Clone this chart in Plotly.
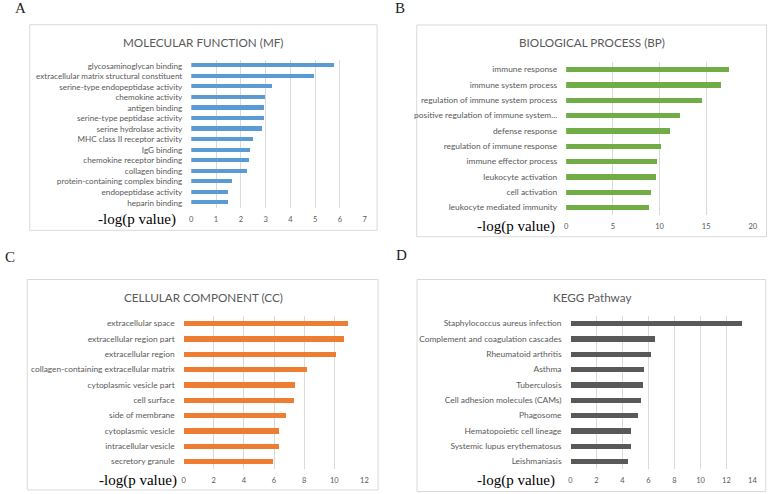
import plotly.graph_objects as go

OFF = 0
W, H = 775 - OFF, 494 - OFF

mf_terms = ["glycosaminoglycan binding", "extracellular matrix structural constituent",
            "serine-type endopeptidase activity", "chemokine activity", "antigen binding",
            "serine-type peptidase activity", "serine hydrolase activity",
            "MHC class II receptor activity", "IgG binding", "chemokine receptor binding",
            "collagen binding", "protein-containing complex binding", "endopeptidase activity",
            "heparin binding"]
mf_values = [5.76, 4.96, 3.25, 2.98, 2.96, 2.93, 2.85, 2.52, 2.37, 2.35, 2.28, 1.67, 1.51, 1.49]

bp_terms = ["immune response", "immune system process", "regulation of immune system process",
            "positive regulation of immune system...", "defense response",
            "regulation of immune response", "immune effector process", "leukocyte activation",
            "cell activation", "leukocyte mediated immunity"]
bp_values = [17.42, 16.57, 14.58, 12.21, 11.15, 10.16, 9.73, 9.63, 9.13, 8.92]

cc_terms = ["extracellular space", "extracellular region part", "extracellular region",
            "collagen-containing extracellular matrix", "cytoplasmic vesicle part", "cell surface",
            "side of membrane", "cytoplasmic vesicle", "intracellular vesicle", "secretory granule"]
cc_values = [10.86, 10.6, 10.11, 8.16, 7.37, 7.28, 6.8, 6.32, 6.3, 5.88]

kegg_terms = ["Staphylococcus aureus infection", "Complement and coagulation cascades",
              "Rheumatoid arthritis", "Asthma", "Tuberculosis", "Cell adhesion molecules (CAMs)",
              "Phagosome", "Hematopoietic cell lineage", "Systemic lupus erythematosus",
              "Leishmaniasis"]
kegg_values = [13.19, 6.48, 6.15, 5.64, 5.54, 5.36, 5.18, 4.6, 4.6, 4.37]

titles = ["MOLECULAR FUNCTION (MF)", "BIOLOGICAL PROCESS (BP)", "CELLULAR COMPONENT (CC)", "KEGG Pathway"]
letters = ["A", "B", "C", "D"]
x_label = "-log(p value)"
x_max = [7, 20, 12, 14]
x_dtick = [1, 5, 2, 2]

def px(x):
    return (x - OFF) / W

def py(y):
    return 1 - (y - OFF) / H

panels = [
    dict(terms=mf_terms, vals=mf_values, color="#5B9BD5",
         px0=191, px1=366, py0=60.4, py1=208, box=(28, 24.7, 378.5, 230.3),
         title=(203.5, 42), letter=(18.5, 8.5), xl=(178, 219), lf=8.1, bg=0.6),
    dict(terms=bp_terms, vals=bp_values, color="#70AD47",
         px0=569.3, px1=757.7, py0=61.6, py1=215, box=(418.5, 25, 771.5, 236.7),
         title=(595, 42.5), letter=(402, 8.5), xl=(560, 226.7), lf=8.4, bg=0.66),
    dict(terms=cc_terms, vals=cc_values, color="#ED7D31",
         px0=183.3, px1=365.7, py0=315.6, py1=469, box=(25.5, 279.5, 379.5, 490),
         title=(203.3, 296.5), letter=(8.5, 257), xl=(178.3, 480), lf=8.4, bg=0.66),
    dict(terms=kegg_terms, vals=kegg_values, color="#595959",
         px0=573.7, px1=757.3, py0=315.6, py1=469, box=(418.8, 279.5, 770.7, 491.5),
         title=(595.5, 296.5), letter=(403, 255), xl=(560, 480), lf=8.4, bg=0.66),
]

fig = go.Figure()
shapes = []
annotations = []
layout_axes = {}

for i, p in enumerate(panels):
    k = "" if i == 0 else str(i + 1)
    fig.add_trace(go.Bar(
        x=p["vals"], y=p["terms"], orientation="h",
        marker=dict(color=p["color"], line=dict(width=0)),
        xaxis="x" + k, yaxis="y" + k, showlegend=False,
        width=1 - p["bg"],
    ))
    n = len(p["terms"])
    layout_axes["xaxis" + k] = dict(
        domain=[px(p["px0"]), px(p["px1"])], anchor="y" + k,
        range=[0, x_max[i]], dtick=x_dtick[i], tick0=0,
        showgrid=True, gridcolor="#d9d9d9", gridwidth=1,
        zeroline=False, showline=False,
        tickfont=dict(family="Lato, sans-serif", size=7.5, color="#595959"),
        ticks="", ticklabelstandoff=5,
    )
    layout_axes["yaxis" + k] = dict(
        domain=[py(p["py1"]), py(p["py0"])], anchor="x" + k,
        type="category", categoryorder="array", categoryarray=p["terms"],
        range=[n - 0.5, -0.5],
        showgrid=False, zeroline=False, showline=False,
        tickfont=dict(family="Lato, sans-serif", size=p["lf"], color="#595959"),
        ticks="", ticklabelstandoff=8,
    )
    x0, y0, x1, y1 = p["box"]
    shapes.append(dict(type="rect", xref="paper", yref="paper",
                       x0=px(x0), x1=px(x1), y0=py(y1), y1=py(y0),
                       line=dict(color="#d9d9d9", width=1), fillcolor="rgba(0,0,0,0)", layer="below"))
    annotations.append(dict(text=titles[i], xref="paper", yref="paper",
                            x=px(p["title"][0]), y=py(p["title"][1]),
                            xanchor="center", yanchor="middle", showarrow=False,
                            font=dict(family="Lato, sans-serif", size=11.7, color="#595959")))
    annotations.append(dict(text=letters[i], xref="paper", yref="paper",
                            x=px(p["letter"][0]), y=py(p["letter"][1]),
                            xanchor="center", yanchor="middle", showarrow=False,
                            font=dict(family="Liberation Serif, serif", size=15, color="#222222")))
    annotations.append(dict(text=x_label, xref="paper", yref="paper",
                            x=px(p["xl"][0]), y=py(p["xl"][1]),
                            xanchor="right", yanchor="middle", showarrow=False,
                            font=dict(family="Liberation Serif, serif", size=15, color="#000000")))

fig.update_layout(
    width=W, height=H,
    margin=dict(l=0, r=0, t=0, b=0),
    paper_bgcolor="white", plot_bgcolor="white",
    shapes=shapes, annotations=annotations,
    bargap=0,
    **layout_axes,
)

fig.write_html("out.html", config={"displayModeBar": False},
               post_script="document.body.style.margin='0px';document.body.style.overflow='hidden';")
